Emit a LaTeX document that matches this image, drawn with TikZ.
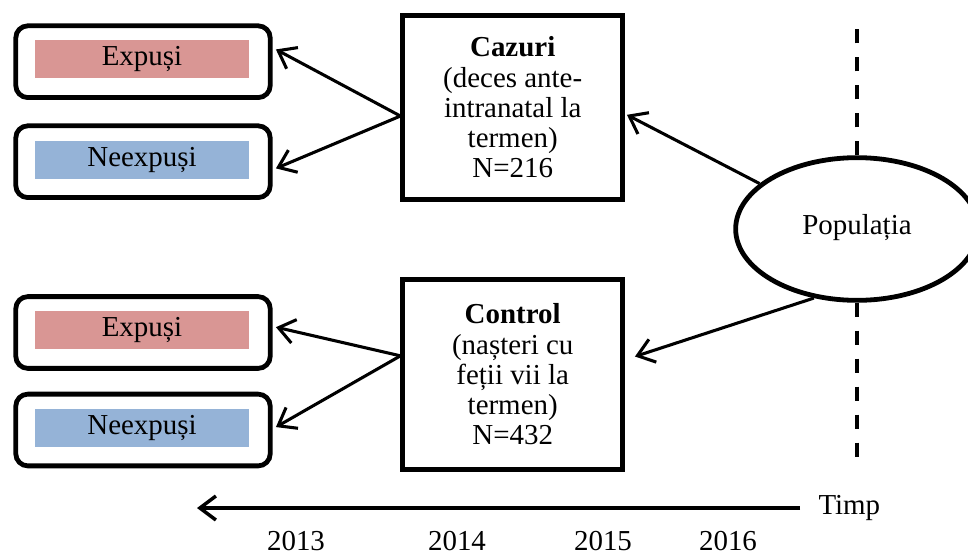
\documentclass[tikz,border=0pt]{standalone}
\usepackage{fontspec}
\setmainfont{Liberation Serif}
\usetikzlibrary{arrows.meta,shapes.geometric}

\definecolor{expcol}{HTML}{D99694}
\definecolor{neexpcol}{HTML}{95B3D7}

\tikzset{every picture/.style={line width=0.75pt}}
\tikzset{
  grpbox/.style={draw,line width=3.6pt,rounded corners=9pt,minimum width=190.8pt,minimum height=53.8pt,inner sep=0pt},
  tagbox/.style={inner sep=0pt,minimum width=160.5pt,minimum height=28.5pt},
  studybox/.style={draw,line width=3.4pt,minimum width=165pt,align=center,inner sep=0pt},
  link/.style={line width=2.3pt,-{Straight Barb[length=12pt,width=18pt]}}
}

\begin{document}
\begin{tikzpicture}[x=0.75pt,y=0.75pt,yscale=-1,xscale=1,font=\fontsize{21.7pt}{22.7pt}\selectfont]
    \useasboundingbox (0,0) rectangle (968,557);

    %Rounded Rect (group boxes)
    \node [grpbox] (grpA) at (143,61.7) {};
    \node [grpbox] (grpB) at (143,161.7) {};
    \node [grpbox] (grpC) at (143,332.5) {};
    \node [grpbox] (grpD) at (143,430) {};
    % Text Node
    \node [tagbox,fill=expcol] (expA) at (142,59) {Expuși};
    % Text Node
    \node [tagbox,fill=neexpcol] (neexpB) at (142,159.5) {Neexpuși};
    % Text Node
    \node [tagbox,fill=expcol] (expC) at (142,329.5) {Expuși};
    % Text Node
    \node [tagbox,fill=neexpcol] (neexpD) at (142,427.5) {Neexpuși};

    %Shape: Rectangle (cazuri)
    \node [studybox,minimum height=138pt] (caz) at (512.7,107.5) {\textbf{Cazuri}\\(deces ante-\\intranatal la\\termen)\\N=216};
    %Shape: Rectangle (control)
    \node [studybox,minimum height=142.5pt] (ctl) at (512.7,374.5) {\textbf{Control}\\(nașteri cu\\feții vii la\\termen)\\N=432};

    %Shape: Ellipse
    \node [ellipse,draw,line width=3.6pt,minimum width=182pt,minimum height=107pt,inner sep=0pt] (pop) at (857,229) {\raisebox{6.75pt}{Populația}};

    %Straight Lines
    \draw [link] ([yshift=6.4pt]caz.west) -- ([xshift=2.5pt,yshift=-9.2pt]grpA.east);
    \draw [link] ([yshift=6.4pt]caz.west) -- ([xshift=2.5pt,yshift=5pt]grpB.east);
    \draw [link] ([yshift=-14pt]ctl.west) -- ([xshift=2.5pt,yshift=-4pt]grpC.east);
    \draw [link] ([yshift=-14pt]ctl.west) -- ([xshift=2.5pt,yshift=-2.2pt]grpD.east);
    \draw [link] (pop.155) -- ([xshift=1.5pt,yshift=5.5pt]caz.east);
    \draw [link] (pop.238) -- ([xshift=7.5pt,yshift=-13.5pt]ctl.east);

    %Dashed Lines
    \coordinate (dtop) at (857,25);
    \coordinate (dbot) at (857,462);
    \draw [line width=3.2pt,dash pattern=on 11pt off 10pt] (pop.north) -- (dtop);
    \draw [line width=3.2pt,dash pattern=on 11pt off 10pt] (pop.south) -- (dbot);

    %Time axis
    \coordinate (tR) at (800,508);
    \coordinate (tL) at (197,508);
    \draw [link,line width=2.6pt] (tR) -- (tL);
    % Text Node
    \node [anchor=west,inner sep=0.75pt] (timp) at (817,508) {Timp};
    % Text Node
    \node [inner sep=0.75pt] (y13) at (296,541) {2013};
    % Text Node
    \node [inner sep=0.75pt] (y14) at (457,541) {2014};
    % Text Node
    \node [inner sep=0.75pt] (y15) at (603,541) {2015};
    % Text Node
    \node [inner sep=0.75pt] (y16) at (728,541) {2016};

\end{tikzpicture}
\end{document}
